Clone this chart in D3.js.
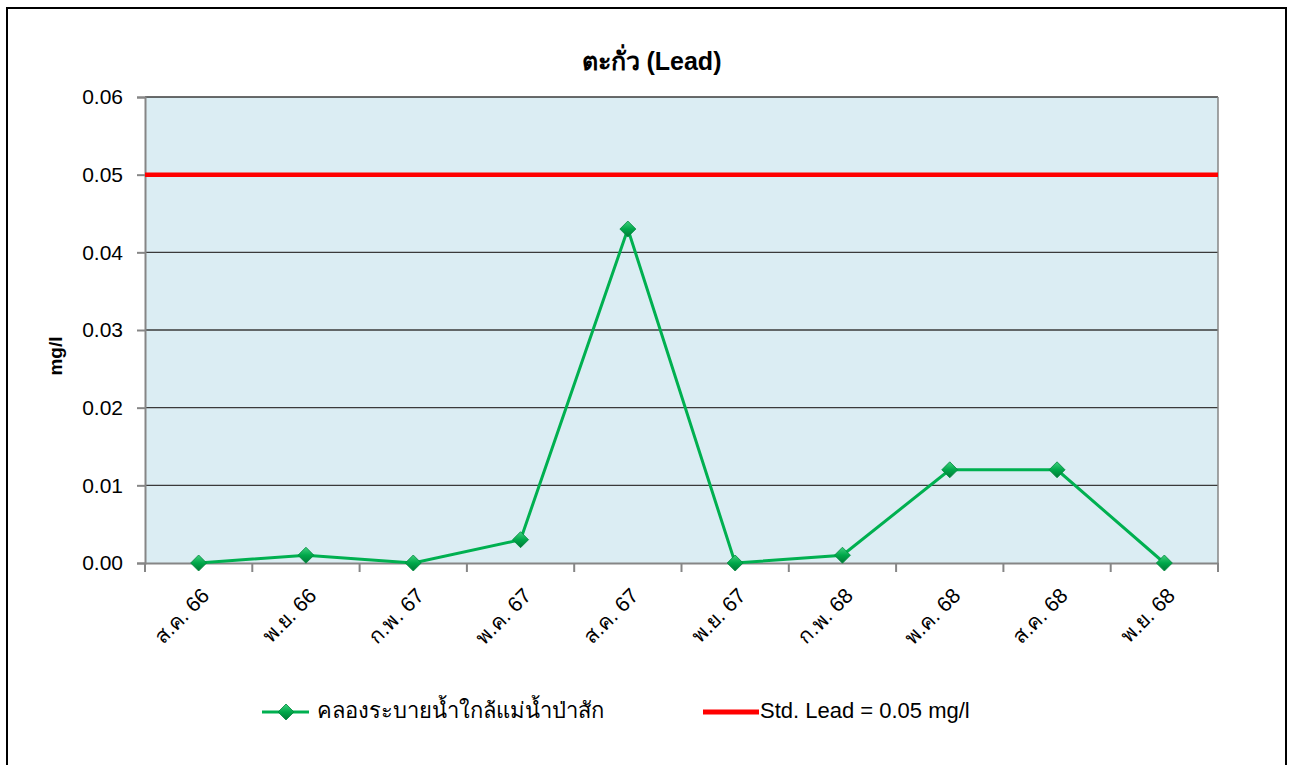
<!DOCTYPE html>
<html>
<head>
<meta charset="utf-8">
<script src="https://cdn.jsdelivr.net/npm/d3@7"></script>
<style>
  body { margin: 0; background: #fff; }
  text { font-family: "Liberation Sans", Arial, sans-serif; }
</style>
</head>
<body>
<div class="chart"></div>
<script>
//categories (sampling months)
var months = ["ส.ค. 66", "พ.ย. 66", "ก.พ. 67", "พ.ค. 67", "ส.ค. 67", "พ.ย. 67", "ก.พ. 68", "พ.ค. 68", "ส.ค. 68", "พ.ย. 68"];

//lead values of the canal
var leadValues = [0.000, 0.001, 0.000, 0.003, 0.043, 0.000, 0.001, 0.012, 0.012, 0.000];

//standard value
var stdLead = 0.05;

//y tick values
var yTicks = [0, 0.01, 0.02, 0.03, 0.04, 0.05, 0.06];

var seriesName = "คลองระบายน้ำใกล้แม่น้ำป่าสัก";
var stdName = "Std. Lead = 0.05 mg/l";

const w = 1295;
const h = 765;
const pLeft = 145, pRight = 1218, pTop = 97, pBottom = 563;

const svg = d3.select(".chart")
              .append("svg")
              .attr("width", w)
              .attr("height", h);

//outer frame (bottom runs off the picture)
svg.append("rect")
   .attr("x", 7).attr("y", 8)
   .attr("width", 1279).attr("height", 800)
   .attr("fill", "none")
   .attr("stroke", "#000")
   .attr("stroke-width", 2);

//gradient for the diamonds
var defs = svg.append("defs");
var grad = defs.append("linearGradient")
   .attr("id", "dia")
   .attr("x1", "0").attr("y1", "0").attr("x2", "0").attr("y2", "1");
grad.append("stop").attr("offset", "0%").attr("stop-color", "#3fd07d");
grad.append("stop").attr("offset", "50%").attr("stop-color", "#00a84a");
grad.append("stop").attr("offset", "100%").attr("stop-color", "#007a35");

//scales
const xScale = d3.scaleBand()
                 .domain(months)
                 .range([pLeft, pRight]);

const yScale = d3.scaleLinear()
                 .domain([0, 0.06])
                 .range([pBottom, pTop]);

//plot background
svg.append("rect")
   .attr("x", pLeft).attr("y", pTop)
   .attr("width", pRight - pLeft).attr("height", pBottom - pTop)
   .attr("fill", "#dbedf3");

//grid lines
svg.selectAll(".grid")
   .data(yTicks.filter((d) => d > 0))
   .enter()
   .append("line")
   .attr("x1", pLeft).attr("x2", pRight)
   .attr("y1", (d) => yScale(d)).attr("y2", (d) => yScale(d))
   .attr("stroke", "#3a3a3a")
   .attr("stroke-width", 1.4);

//right edge of the plot area
svg.append("line")
   .attr("x1", pRight).attr("x2", pRight)
   .attr("y1", pTop).attr("y2", pBottom)
   .attr("stroke", "#868686").attr("stroke-width", 1.5);

//y axis
const yAxis = d3.axisLeft(yScale)
                .tickValues(yTicks)
                .tickSize(8)
                .tickPadding(14)
                .tickFormat(d3.format(".2f"));
const gy = svg.append("g")
   .attr("transform", "translate(" + pLeft + ",0)")
   .call(yAxis);
gy.select(".domain").attr("stroke", "#868686").attr("stroke-width", 2);
gy.selectAll(".tick line").attr("stroke", "#868686").attr("stroke-width", 2);
gy.selectAll(".tick text")
   .attr("font-size", "21px")
   .attr("fill", "#000")
   .style("font-family", "'Liberation Sans', Arial, sans-serif");

//x axis, ticks at category boundaries
const xAxis = d3.axisBottom(xScale).tickSize(0).tickFormat("");
const gx = svg.append("g")
   .attr("transform", "translate(0," + pBottom + ")")
   .call(xAxis);
gx.select(".domain").attr("stroke", "#868686").attr("stroke-width", 2);

svg.selectAll(".xtick")
   .data(months.concat(["end"]))
   .enter()
   .append("line")
   .attr("x1", (d, i) => i < months.length ? xScale(d) : pRight)
   .attr("x2", (d, i) => i < months.length ? xScale(d) : pRight)
   .attr("y1", pBottom).attr("y2", pBottom + 9)
   .attr("stroke", "#868686").attr("stroke-width", 2);

//x labels rotated
svg.selectAll(".xlab")
   .data(months)
   .enter()
   .append("text")
   .attr("transform", (d) => "translate(" + (xScale(d) + xScale.bandwidth() / 2 + 8) + "," + (pBottom + 30) + ") rotate(-45)")
   .attr("text-anchor", "end")
   .attr("dominant-baseline", "middle")
   .attr("font-size", "21px")
   .text((d) => d);

//standard line
svg.append("line")
   .attr("x1", pLeft).attr("x2", pRight)
   .attr("y1", yScale(stdLead)).attr("y2", yScale(stdLead))
   .attr("stroke", "#ff0000")
   .attr("stroke-width", 4.5);

//series line
const line = d3.line()
   .x((d, i) => xScale(months[i]) + xScale.bandwidth() / 2)
   .y((d) => yScale(d));

svg.append("path")
   .datum(leadValues)
   .attr("d", line)
   .attr("fill", "none")
   .attr("stroke", "#00b050")
   .attr("stroke-width", 3);

//diamond markers
const diamond = "M0,-8L8,0L0,8L-8,0Z";
svg.selectAll(".pt")
   .data(leadValues)
   .enter()
   .append("path")
   .attr("d", diamond)
   .attr("transform", (d, i) => "translate(" + (xScale(months[i]) + xScale.bandwidth() / 2) + "," + yScale(d) + ")")
   .attr("fill", "url(#dia)")
   .attr("stroke", "#00883c")
   .attr("stroke-width", 0.8);

//title
svg.append("text")
   .attr("x", (pLeft + pRight) / 2 - 30)
   .attr("y", 70)
   .attr("text-anchor", "middle")
   .attr("font-size", "25px")
   .attr("font-weight", "bold")
   .text("ตะกั่ว (Lead)");

//y axis title
svg.append("text")
   .attr("transform", "translate(62,356) rotate(-90)")
   .attr("text-anchor", "middle")
   .attr("font-size", "19px")
   .attr("font-weight", "bold")
   .text("mg/l");

//legend
const ly = 712;
svg.append("line")
   .attr("x1", 262).attr("x2", 309)
   .attr("y1", ly).attr("y2", ly)
   .attr("stroke", "#00b050").attr("stroke-width", 3);
svg.append("path")
   .attr("d", diamond)
   .attr("transform", "translate(286," + ly + ")")
   .attr("fill", "url(#dia)")
   .attr("stroke", "#00883c")
   .attr("stroke-width", 0.8);
svg.append("text")
   .attr("x", 317).attr("y", ly)
   .attr("dominant-baseline", "middle")
   .attr("font-size", "22px")
   .text(seriesName);

svg.append("line")
   .attr("x1", 703).attr("x2", 759)
   .attr("y1", ly).attr("y2", ly)
   .attr("stroke", "#ff0000").attr("stroke-width", 5);
svg.append("text")
   .attr("x", 760).attr("y", ly)
   .attr("dominant-baseline", "middle")
   .attr("font-size", "22px")
   .text(stdName);
</script>
</body>
</html>
